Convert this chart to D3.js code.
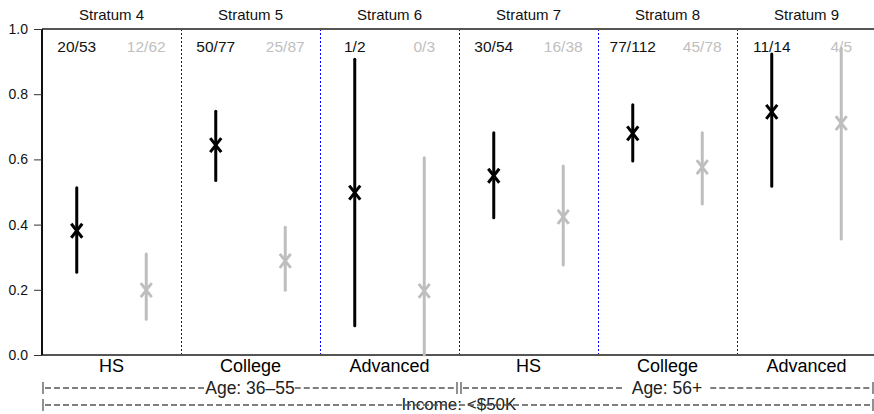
<!DOCTYPE html>
<html><head><meta charset="utf-8">
<script src="https://cdn.jsdelivr.net/npm/d3@7"></script>
<style>body{margin:0;background:#fff}svg{display:block;font-family:"Liberation Sans",Arial,sans-serif}</style>
</head><body><svg id="c" width="874" height="414"></svg>
<script>
const strata = ["Stratum 4","Stratum 5","Stratum 6","Stratum 7","Stratum 8","Stratum 9"];
const education = ["HS","College","Advanced","HS","College","Advanced"];
const ageGroups = ["Age: 36\u201355","Age: 56+"];
const incomeLabel = "Income: <$50K";
const countA = ["20/53","50/77","1/2","30/54","77/112","11/14"];
const countB = ["12/62","25/87","0/3","16/38","45/78","4/5"];
const estA = [0.381,0.644,0.498,0.550,0.680,0.746];
const lowA = [0.254,0.535,0.090,0.421,0.595,0.518];
const highA = [0.513,0.748,0.907,0.682,0.768,0.923];
const estB = [0.199,0.289,0.197,0.424,0.576,0.711];
const lowB = [0.110,0.199,0.000,0.276,0.463,0.356];
const highB = [0.310,0.392,0.605,0.580,0.682,0.941];
const yTicks = [0,0.2,0.4,0.6,0.8,1.0];

const svg = d3.select("#c");
const L = 42, R = 876, T = 29, B = 355;
const x = d3.scaleBand().domain(strata).range([L, R]).padding(0);
const y = d3.scaleLinear().domain([0,1]).range([B, T]);
const bw = x.bandwidth();
const colA = "#000", colB = "#bebebe";

// dividers
svg.selectAll("line.div").data(strata.slice(1)).join("line")
  .attr("x1", d=>Math.round(x(d))+0.5).attr("x2", d=>Math.round(x(d))+0.5).attr("y1", T).attr("y2", B)
  .attr("stroke", "#0000ff").attr("stroke-width", 1).attr("stroke-dasharray", "2,2");

// top and bottom borders
svg.append("line").attr("x1", L).attr("x2", 874).attr("y1", T).attr("y2", T).attr("stroke", "#555").attr("stroke-width", 2);
svg.append("line").attr("x1", L).attr("x2", 874).attr("y1", B).attr("y2", B).attr("stroke", "#555").attr("stroke-width", 2);

// y axis
const ya = svg.append("g").attr("transform", `translate(${L},0)`)
  .call(d3.axisLeft(y).tickValues(yTicks).tickFormat(d3.format(".1f")).tickSize(8).tickPadding(6));
ya.select(".domain").attr("stroke", "#111").attr("stroke-width", 2).attr("d", `M0,${B}V${T}`);
ya.selectAll(".tick line").attr("stroke", "#333");
ya.selectAll(".tick text").attr("font-size", 14).attr("fill", "#111").attr("font-family", "Liberation Sans, Arial, sans-serif");

// stratum titles
svg.selectAll("text.st").data(strata).join("text")
  .attr("x", d=>x(d)+bw/2).attr("y", 20).attr("text-anchor","middle")
  .attr("font-size", 15).attr("fill","#111").text(d=>d);

// counts
svg.selectAll("text.ca").data(strata).join("text")
  .attr("x", d=>x(d)+bw*0.25).attr("y", 52).attr("text-anchor","middle")
  .attr("font-size", 15.5).attr("fill","#111").text((d,i)=>countA[i]);
svg.selectAll("text.cb").data(strata).join("text")
  .attr("x", d=>x(d)+bw*0.75).attr("y", 52).attr("text-anchor","middle")
  .attr("font-size", 15.5).attr("fill","#c0c0c0").text((d,i)=>countB[i]);

function series(est, lo, hi, frac, col, sw) {
  const g = svg.append("g");
  g.selectAll("line").data(strata).join("line")
    .attr("x1", d=>x(d)+bw*frac).attr("x2", d=>x(d)+bw*frac)
    .attr("y1", (d,i)=>y(lo[i])).attr("y2", (d,i)=>y(hi[i]))
    .attr("stroke", col).attr("stroke-width", 3).attr("stroke-linecap","round");
  g.selectAll("path").data(strata).join("path")
    .attr("d", (d,i)=>{
      const cx = x(d)+bw*frac, cy = y(est[i]), hx = 5.5, hy = 7;
      return `M${cx-hx},${cy-hy}L${cx+hx},${cy+hy}M${cx+hx},${cy-hy}L${cx-hx},${cy+hy}`;
    })
    .attr("stroke", col).attr("stroke-width", sw).attr("fill","none");
}
series(estA, lowA, highA, 0.25, colA, 3);
series(estB, lowB, highB, 0.75, colB, 2.8);

// education labels
svg.selectAll("text.ed").data(strata).join("text")
  .attr("x", d=>x(d)+bw/2).attr("y", 372).attr("text-anchor","middle")
  .attr("font-size", 18).attr("fill","#000").text((d,i)=>education[i]);

// age group brackets
const dash = "6,3", gcol = "#555";
const ageY = 388;
const ageSpans = [[43, 457], [461, 873]];
const ageGap = [0, 8];
ageSpans.forEach((s, i) => {
  const cx = (s[0]+s[1])/2;
  const t = svg.append("text").attr("x", cx).attr("y", ageY+6).attr("text-anchor","middle")
    .attr("font-size", 17.5).attr("fill","#222").text(ageGroups[i]);
  const w = t.node().getComputedTextLength();
  svg.append("line").attr("x1", s[0]+2).attr("x2", cx-w/2-ageGap[i]).attr("y1", ageY).attr("y2", ageY)
    .attr("stroke", gcol).attr("stroke-width", 1.3).attr("stroke-dasharray", dash);
  svg.append("line").attr("x1", cx+w/2+ageGap[i]).attr("x2", s[1]-2).attr("y1", ageY).attr("y2", ageY)
    .attr("stroke", gcol).attr("stroke-width", 1.3).attr("stroke-dasharray", dash);
  [s[0], s[1]].forEach(px => svg.append("line").attr("x1", px).attr("x2", px).attr("y1", ageY-6).attr("y2", ageY+6)
    .attr("stroke", gcol).attr("stroke-width", 1.3));
});

// income bracket
const incY = 405;
svg.append("text").attr("x", 459).attr("y", incY+5).attr("text-anchor","middle")
  .attr("font-size", 17).attr("fill","#222").text(incomeLabel);
svg.append("line").attr("x1", 45).attr("x2", 871).attr("y1", incY).attr("y2", incY)
  .attr("stroke", gcol).attr("stroke-width", 1.3).attr("stroke-dasharray", dash);
[43, 873].forEach(px => svg.append("line").attr("x1", px).attr("x2", px).attr("y1", incY-6).attr("y2", incY+6)
  .attr("stroke", gcol).attr("stroke-width", 1.3));
</script></body></html>
